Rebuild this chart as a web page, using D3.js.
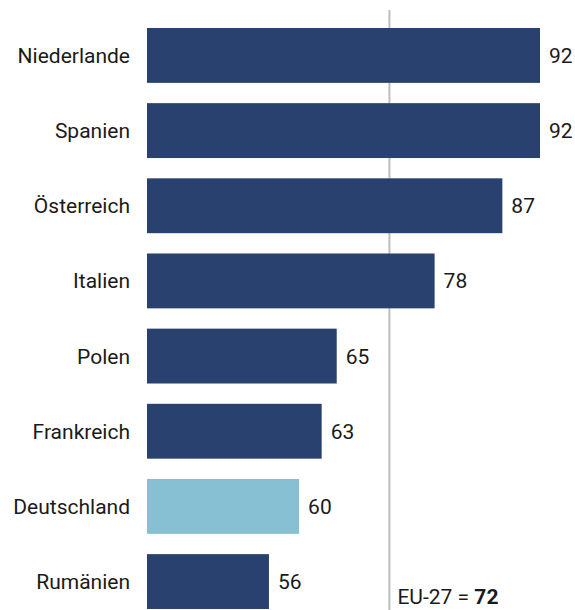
<!DOCTYPE html>
<html>
<head>
<meta charset="utf-8">
<script src="https://cdn.jsdelivr.net/npm/d3@7"></script>
<style>
  body { margin: 0; background: #fff; }
  text { font-family: Roboto, "Noto Sans", sans-serif; fill: #1a1a1a; }
</style>
</head>
<body>
<div id="chart"></div>
<script>
const width = 575
const height = 610

// data
const countries = ["Niederlande", "Spanien", "Österreich", "Italien", "Polen", "Frankreich", "Deutschland", "Rumänien"]
const values = [92, 92, 87, 78, 65, 63, 60, 56]
const highlight = "Deutschland"
const euLabel = "EU-27 = "
const euValue = 72

const data = countries.map((c, i) => ({name: c, value: values[i]}))

const darkBlue = "#29416e"
const lightBlue = "#87bfd3"
const xMin = 39.8     // bars start here, axis isn't drawn

// scales
var x = d3.scaleLinear()
  .domain([xMin, 92])
  .range([147, 540])

var y = d3.scaleBand()
  .domain(countries)
  .range([28, 609])
  .paddingInner(0.27)
  .paddingOuter(0)

var svg = d3.select("#chart")
  .append("svg")
  .attr("width", width)
  .attr("height", height)

// EU reference line (behind the bars)
svg.append("line")
  .attr("x1", x(euValue))
  .attr("x2", x(euValue))
  .attr("y1", 10)
  .attr("y2", height)
  .attr("stroke", "#bdbdbd")
  .attr("stroke-width", 2)

// bars
svg.selectAll(".bar")
  .data(data)
  .enter()
  .append("rect")
  .attr("class", "bar")
  .attr("x", x(xMin))
  .attr("y", d => y(d.name))
  .attr("width", d => x(d.value) - x(xMin))
  .attr("height", y.bandwidth())
  .attr("fill", d => d.name == highlight ? lightBlue : darkBlue)

// category labels
svg.selectAll(".cat")
  .data(data)
  .enter()
  .append("text")
  .attr("class", "cat")
  .attr("x", 130)
  .attr("y", d => y(d.name) + y.bandwidth() / 2)
  .attr("dy", "0.36em")
  .attr("text-anchor", "end")
  .style("font-size", "21px")
  .text(d => d.name)

// value labels
svg.selectAll(".val")
  .data(data)
  .enter()
  .append("text")
  .attr("class", "val")
  .attr("x", d => x(d.value) + 9)
  .attr("y", d => y(d.name) + y.bandwidth() / 2)
  .attr("dy", "0.36em")
  .style("font-size", "21px")
  .text(d => d.value)

// EU label
var eu = svg.append("text")
  .attr("x", x(euValue) + 8)
  .attr("y", 604)
  .style("font-size", "21px")
eu.append("tspan").text(euLabel)
eu.append("tspan").style("font-weight", "bold").text(euValue)
</script>
</body>
</html>
